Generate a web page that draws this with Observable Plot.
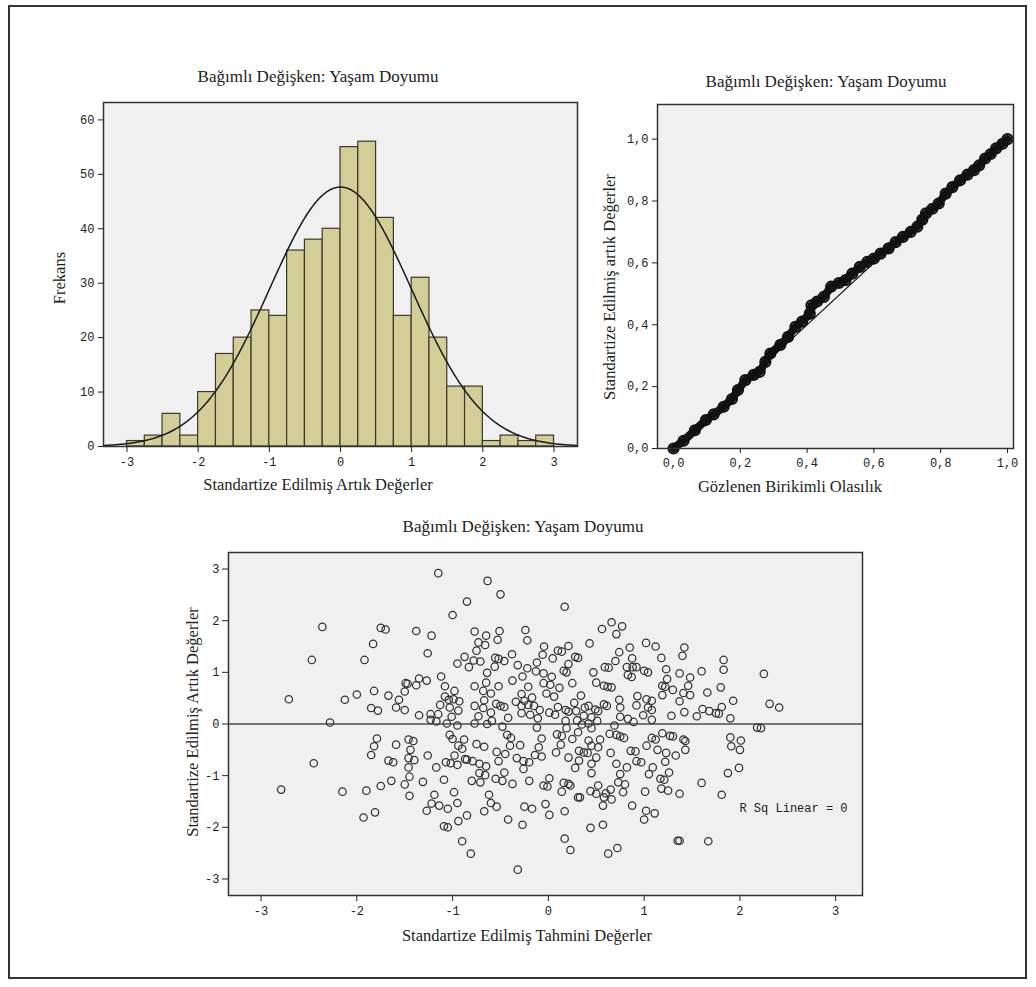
<!DOCTYPE html>
<html><head><meta charset="utf-8">
<script src="https://cdn.jsdelivr.net/npm/d3@7"></script>
<script src="https://cdn.jsdelivr.net/npm/@observablehq/plot@0.6"></script>
<style>
body{margin:0;background:#fff;width:1036px;height:987px;position:relative;overflow:hidden}
#border{position:absolute;left:8px;top:5px;width:1015px;height:970px;border:2px solid #333;}
.t{position:absolute;font-family:'Liberation Serif','Times New Roman',serif;font-size:16.5px;color:#222;white-space:nowrap;transform:translate(-50%,-50%)}
.h{font-size:17px}
.ty{transform:translate(-50%,-50%) rotate(-90deg)}
.chart{position:absolute}
</style></head><body>
<div id="border"></div>
<div class="t h" style="left:318px;top:77px">Bağımlı Değişken: Yaşam Doyumu</div>
<div class="t" style="left:318px;top:485px">Standartize Edilmiş Artık Değerler</div>
<div class="t ty" style="left:60px;top:278px">Frekans</div>
<div class="t h" style="left:826px;top:82px">Bağımlı Değişken: Yaşam Doyumu</div>
<div class="t" style="left:790px;top:487px">Gözlenen Birikimli Olasılık</div>
<div class="t ty" style="left:610px;top:287px">Standartize Edilmiş artık Değerler</div>
<div class="t h" style="left:523px;top:527px">Bağımlı Değişken: Yaşam Doyumu</div>
<div class="t" style="left:527px;top:936px">Standartize Edilmiş Tahmini Değerler</div>
<div class="t ty" style="left:193px;top:722px">Standartize Edilmiş Artık Değerler</div>
<div id="hist" class="chart" style="left:40px;top:92px"></div>
<div id="pp" class="chart" style="left:595px;top:92px"></div>
<div id="sc" class="chart" style="left:150px;top:545px"></div>
<script>
// ---------- Histogram data ----------
const histBinLower = [-3,-2.75,-2.5,-2.25,-2,-1.75,-1.5,-1.25,-1,-0.75,-0.5,-0.25,0,0.25,0.5,0.75,1,1.25,1.5,1.75,2,2.25,2.5,2.75];
const histBinWidth = 0.25;
const histCounts = [1,2,6,2,10,17,20,25,24,36,38,40,55,56,42,24,31,20,11,11,1,2,1,2];
const histXTicks = [-3,-2,-1,0,1,2,3];
const histYTicks = [0,10,20,30,40,50,60];
// fitted normal curve parameters (SPSS: mean, std. dev., N)
const normMean = 0, normSD = 0.998, normN = 477;

// ---------- P-P plot data (observed cum. prob, expected cum. prob) ----------
const ppPoints = [[0,0],[0.03,0.025],[0.064,0.059],[0.097,0.092],[0.12,0.11],[0.15,0.135],[0.175,0.16],[0.193,0.189],[0.215,0.221],[0.24,0.238],[0.258,0.248],[0.275,0.28],[0.29,0.307],[0.32,0.335],[0.343,0.361],[0.365,0.393],[0.385,0.41],[0.408,0.436],[0.413,0.463],[0.43,0.475],[0.45,0.49],[0.472,0.523],[0.495,0.535],[0.515,0.544],[0.535,0.565],[0.558,0.587],[0.58,0.603],[0.60,0.614],[0.62,0.63],[0.644,0.647],[0.665,0.667],[0.687,0.684],[0.71,0.70],[0.73,0.717],[0.745,0.74],[0.756,0.76],[0.775,0.775],[0.794,0.792],[0.815,0.824],[0.835,0.845],[0.858,0.867],[0.88,0.885],[0.90,0.90],[0.915,0.915],[0.933,0.9375],[0.95,0.952],[0.966,0.97],[0.985,0.985],[1.0,1.0]];
const ppDiagonal = [0,1];
const ppTicks = [0,0.2,0.4,0.6,0.8,1.0];

// ---------- Scatter data (standardized predicted, standardized residual) ----------
const scatterPoints = [
[-2.71,0.48],[-2.47,1.24],[-2.36,1.88],[-2.28,0.03],[-2.125,0.47],[-2.0,0.57],[-1.92,1.24],[-1.83,1.55],[-1.82,0.64],[-1.85,0.31],[-1.78,0.26],[-1.75,1.86],[-1.70,1.83],[-1.67,0.55],[-1.59,0.32],[-1.56,0.47],[-1.50,0.27],[-1.50,0.63],[-1.49,0.79],[-1.47,0.78],[-1.38,1.80],[-1.38,0.75],[-1.35,0.88],[-1.35,0.17],
[-1.15,2.92],[-0.635,2.77],[-0.50,2.51],[-0.85,2.37],[-1.00,2.11],[0.17,2.27],[-1.22,1.71],[-1.26,1.37],[-0.77,1.79],[-0.65,1.71],[-0.73,1.58],[-0.66,1.53],[-0.51,1.80],[-0.53,1.63],[-0.24,1.82],[-0.22,1.62],[-0.75,1.42],[-0.875,1.30],[-0.95,1.17],[-0.83,1.10],[-0.78,1.23],[-0.71,1.21],[-0.555,1.28],[-0.52,1.26],[-0.46,1.22],[-0.56,1.11],[-0.38,1.35],[-0.32,1.14],[-0.045,1.50],[-0.06,1.34],[0.10,1.42],[0.14,1.40],[0.21,1.51],[0.045,1.27],[-0.12,1.19],[-0.22,1.08],[-0.27,0.92],[-0.13,1.02],[-0.05,0.98],[0.035,0.915],[-0.05,0.79],[0.02,0.76],[-0.02,0.59],[0.16,1.03],[0.19,1.00],[0.21,1.16],[0.28,1.30],[0.31,1.28],[0.43,1.56],[0.56,1.84],[0.66,1.97],[0.71,1.74],[0.77,1.89],[0.74,1.39],[0.85,1.48],[0.70,1.22],[0.59,1.10],[0.63,1.09],[0.47,1.00],[0.50,0.80],[0.58,0.74],[0.62,0.72],[0.66,0.71],[0.82,1.10],[0.875,1.27],[0.88,1.10],[0.92,1.10],[0.83,0.95],[0.87,0.91],[0.74,0.47],[0.75,0.32],[0.93,0.54],[0.92,0.36],
[-1.12,0.92],[-1.27,0.84],[-1.08,0.73],[-1.08,0.53],[-1.04,0.47],[-0.98,0.64],[-0.99,0.48],[-0.93,0.44],[-1.13,0.37],[-1.03,0.32],[-0.94,0.26],[-1.15,0.19],[-1.23,0.19],[-1.23,0.08],[-1.17,0.05],[-1.06,0.01],[-1.01,0.14],[-0.95,-0.03],[-0.77,0.73],[-0.64,0.99],[-0.65,0.80],[-0.52,0.73],[-0.68,0.64],[-0.60,0.59],[-0.67,0.46],[-0.77,0.35],[-0.68,0.31],[-0.545,0.39],[-0.50,0.35],[-0.46,0.33],[-0.60,0.22],[-0.73,0.15],[-0.59,0.06],[-0.77,0.01],[-0.42,0.12],[-0.375,0.84],[-0.21,0.72],[-0.34,0.43],[-0.28,0.58],[-0.25,0.45],[-0.28,0.35],[-0.21,0.37],[-0.17,0.51],[-0.15,0.35],[-0.28,0.21],[-0.19,0.18],[-0.09,0.27],[-0.11,0.11],[0.06,0.53],[0.115,0.70],[0.25,0.79],[0.34,0.55],[0.10,0.33],[0.01,0.22],[0.07,0.18],[0.18,0.27],[0.21,0.24],[0.27,0.41],[0.29,0.25],[0.38,0.32],[0.42,0.35],[0.37,0.16],[0.45,0.13],[0.49,0.28],[0.52,0.25],[0.58,0.38],[0.61,0.35],[0.75,0.14],[0.83,0.10],[0.89,0.04],[0.18,0.06],[0.30,0.07],[0.42,0.01],[0.51,0.06],[-0.64,0.0],
[1.02,1.57],[1.12,1.50],[1.42,1.48],[1.40,1.32],[1.18,1.28],[1.83,1.24],[1.83,1.05],[1.00,1.03],[1.04,1.00],[1.23,1.06],[1.24,0.87],[1.37,0.98],[1.48,0.90],[1.60,1.02],[2.25,0.97],[1.19,0.74],[1.22,0.72],[1.30,0.66],[1.46,0.74],[1.80,0.71],[1.19,0.56],[1.41,0.60],[1.48,0.56],[1.66,0.61],[1.025,0.48],[1.08,0.45],[1.37,0.44],[1.93,0.45],[1.04,0.32],[1.08,0.27],[1.61,0.29],[1.68,0.25],[1.75,0.21],[1.78,0.20],[1.81,0.33],[1.42,0.23],[1.285,0.16],[1.55,0.15],[1.90,0.11],[2.31,0.39],[2.41,0.32],[0.99,0.17],[1.08,0.08],[2.18,-0.07],[2.22,-0.08],
[-2.79,-1.27],[-2.45,-0.76],[-2.15,-1.31],[-1.93,-1.81],[-1.90,-1.29],[-1.81,-1.71],[-1.75,-1.20],[-1.79,-0.28],[-1.82,-0.43],[-1.85,-0.60],[-1.67,-0.71],[-1.62,-0.74],[-1.64,-1.10],[-1.59,-0.40],[-1.46,-0.30],[-1.41,-0.33],[-1.44,-0.50],[-1.46,-0.66],[-1.40,-0.70],[-1.46,-0.84],[-1.45,-1.02],[-1.50,-1.17],[-1.45,-1.39],
[-0.32,-2.82],[-0.81,-2.51],[-0.90,-2.27],[0.17,-2.22],[0.23,-2.44],[0.625,-2.51],[0.72,-2.40],[-1.09,-1.98],[-1.05,-2.00],[-0.94,-1.88],[-0.85,-1.77],[-1.27,-1.68],[-1.22,-1.54],[-1.14,-1.58],[-1.05,-1.64],[-1.19,-1.37],[-0.985,-1.32],[-0.95,-1.53],[-0.67,-1.69],[-0.62,-1.37],[-0.60,-1.53],[-0.54,-1.60],[-0.42,-1.85],[-0.27,-1.95],[-0.25,-1.60],[-0.17,-1.64],[-0.03,-1.55],[0.01,-1.76],[0.17,-1.69],[0.44,-2.01],[0.57,-1.95],[0.57,-1.58],[0.875,-1.58],[-1.31,-1.12],[-1.09,-1.08],[-1.17,-0.84],[-1.26,-0.61],[-1.07,-0.74],[-1.02,-0.76],[-0.95,-0.79],[-0.98,-0.61],[-0.90,-0.48],[-0.94,-0.42],[-0.88,-0.30],[-0.87,-0.68],[-0.85,-0.69],[-1.0,-0.29],[-1.03,-0.21],[-0.75,-0.39],[-0.67,-0.44],[-0.79,-0.72],[-0.72,-0.77],[-0.65,-0.82],[-0.72,-0.95],[-0.66,-0.99],[-0.80,-1.10],[-0.71,-1.13],[-0.54,-0.54],[-0.52,-0.72],[-0.45,-0.58],[-0.48,-0.05],[-0.43,-0.21],[-0.39,-0.27],[-0.40,-0.42],[-0.295,-0.41],[-0.33,-0.66],[-0.26,-0.72],[-0.20,-0.74],[-0.26,-0.87],[-0.55,-1.06],[-0.46,-0.94],[-0.48,-1.10],[-0.375,-1.16],[-0.20,-1.10],[-0.14,-0.60],[-0.10,-0.45],[-0.07,-0.28],[-0.07,-0.63],[-0.12,-0.07],[-0.05,-1.19],[-0.01,-1.21],[0.01,-1.05],[0.14,-1.31],[0.16,-1.14],[0.21,-1.16],[0.23,-1.19],[0.08,-0.55],[0.13,-0.40],[0.14,-0.23],[0.09,-0.20],[0.21,-0.65],[0.25,-0.29],[0.19,-0.08],[0.31,-0.16],[0.32,-0.52],[0.28,-0.85],[0.32,-0.71],[0.37,-0.55],[0.41,-0.56],[0.45,-0.42],[0.45,-0.77],[0.45,-0.95],[0.50,-0.65],[0.54,-0.30],[0.52,-0.45],[0.31,-1.42],[0.33,-1.42],[0.44,-1.30],[0.50,-1.35],[0.52,-1.19],[0.58,-1.42],[0.60,-1.34],[0.65,-1.27],[0.66,-1.46],[0.73,-1.13],[0.75,-0.97],[0.78,-1.32],[0.80,-1.17],[0.71,-0.77],[0.65,-0.56],[0.82,-0.84],[0.86,-0.52],[0.91,-0.53],[0.92,-0.72],[0.64,-0.19],[0.71,-0.21],[0.75,-0.24],[0.79,-0.27],[0.69,-0.03],[0.42,-0.32],[0.35,-0.01],[0.45,-0.08],
[1.19,-0.18],[1.08,-0.27],[1.12,-0.30],[1.27,-0.23],[1.30,-0.24],[1.41,-0.30],[1.43,-0.33],[1.025,-0.42],[1.14,-0.50],[1.23,-0.56],[1.33,-0.61],[1.43,-0.50],[0.97,-0.74],[1.22,-0.73],[1.09,-0.84],[1.05,-0.97],[1.26,-0.94],[1.17,-1.06],[1.21,-1.08],[1.18,-1.25],[1.25,-1.29],[1.37,-1.35],[1.01,-1.31],[1.60,-1.14],[1.81,-1.37],[1.90,-0.26],[2.01,-0.32],[1.91,-0.43],[2.00,-0.50],[1.875,-0.95],[1.99,-0.85],[1.02,-1.68],[1.11,-1.73],[1.00,-1.85],[1.35,-2.26],[1.37,-2.26],[1.67,-2.27]
];
const scatterTicks = [-3,-2,-1,0,1,2,3];
const rsqLabel = "R Sq Linear = 0";

// ---------- Common style ----------
const axisStyle = {fontFamily:"'Liberation Mono', monospace", fontSize:"12px", color:"#222", background:"transparent", overflow:"visible"};
const comma1 = d => d.toFixed(1).replace(".", ",");

// Histogram
const bins = histBinLower.map((lo,i) => ({x1: lo, x2: lo + histBinWidth, n: histCounts[i]}));
const xMin = -3.33, xMax = 3.33;
const curve = d3.range(xMin, xMax + 0.001, 0.02).map(x => ({
  x, y: normN * histBinWidth * Math.exp(-0.5 * ((x - normMean)/normSD)**2) / (Math.sqrt(2*Math.PI) * normSD)
}));
document.getElementById("hist").append(Plot.plot({
  width:560, height:390, marginLeft:63, marginRight:23, marginTop:10, marginBottom:36,
  style: axisStyle,
  x:{domain:[xMin,xMax]}, y:{domain:[0,63.2]},
  marks:[
    Plot.frame({fill:"#f0f0f0", stroke:null}),
    Plot.rect(bins, {x1:"x1", x2:"x2", y1:0, y2:"n", fill:"#d3ce97", stroke:"#3a3a2a", strokeWidth:1.2}),
    Plot.line(curve, {x:"x", y:"y", stroke:"#1a1a1a", strokeWidth:1.5}),
    Plot.frame({stroke:"#333", strokeWidth:1.5}),
    Plot.axisX({ticks:histXTicks, tickSize:6, tickPadding:5, tickFormat:d=>String(d), label:null}),
    Plot.axisY({ticks:histYTicks, tickSize:5, tickPadding:4, tickFormat:d=>String(d), label:null})
  ]
}));

// P-P plot
document.getElementById("pp").append(Plot.plot({
  width:436, height:390, marginLeft:62, marginRight:18, marginTop:12, marginBottom:34,
  style: axisStyle,
  x:{domain:[-0.048,1.018]}, y:{domain:[0,1.112]},
  marks:[
    Plot.frame({fill:"#f0f0f0", stroke:null}),
    Plot.line(ppDiagonal, {x:d=>d, y:d=>d, stroke:"#111", strokeWidth:1.2}),
    Plot.line(ppPoints, {x:d=>d[0], y:d=>d[1], stroke:"#111", strokeWidth:8, strokeLinejoin:"round", strokeLinecap:"round"}),
    Plot.dot(ppPoints, {x:d=>d[0], y:d=>d[1], r:5, stroke:"#111", strokeWidth:2.2}),
    Plot.frame({stroke:"#333", strokeWidth:1.5}),
    Plot.axisX({ticks:ppTicks, tickSize:5, tickPadding:5, tickFormat:comma1, label:null}),
    Plot.axisY({ticks:ppTicks, tickSize:5, tickPadding:4, tickFormat:comma1, label:null})
  ]
}));

// Scatter
document.getElementById("sc").append(Plot.plot({
  width:740, height:380, marginLeft:78, marginRight:28, marginTop:7, marginBottom:30,
  style: axisStyle,
  x:{domain:[-3.34,3.28]}, y:{domain:[-3.32,3.32]},
  marks:[
    Plot.frame({fill:"#f0f0f0", stroke:null}),
    Plot.ruleY([0], {stroke:"#777", strokeWidth:2}),
    Plot.dot(scatterPoints, {x:d=>d[0], y:d=>d[1], r:3.7, stroke:"#333", strokeWidth:1.25}),
    Plot.text([rsqLabel], {frameAnchor:"bottom-right", dx:-15, dy:-84, textAnchor:"end", fill:"#222", fontSize:12}),
    Plot.frame({stroke:"#333", strokeWidth:1.5}),
    Plot.axisX({ticks:scatterTicks, tickSize:6, tickPadding:5, tickFormat:d=>String(d), label:null}),
    Plot.axisY({ticks:scatterTicks, tickSize:6, tickPadding:3, tickFormat:d=>String(d), label:null})
  ]
}));
</script>
</body></html>
